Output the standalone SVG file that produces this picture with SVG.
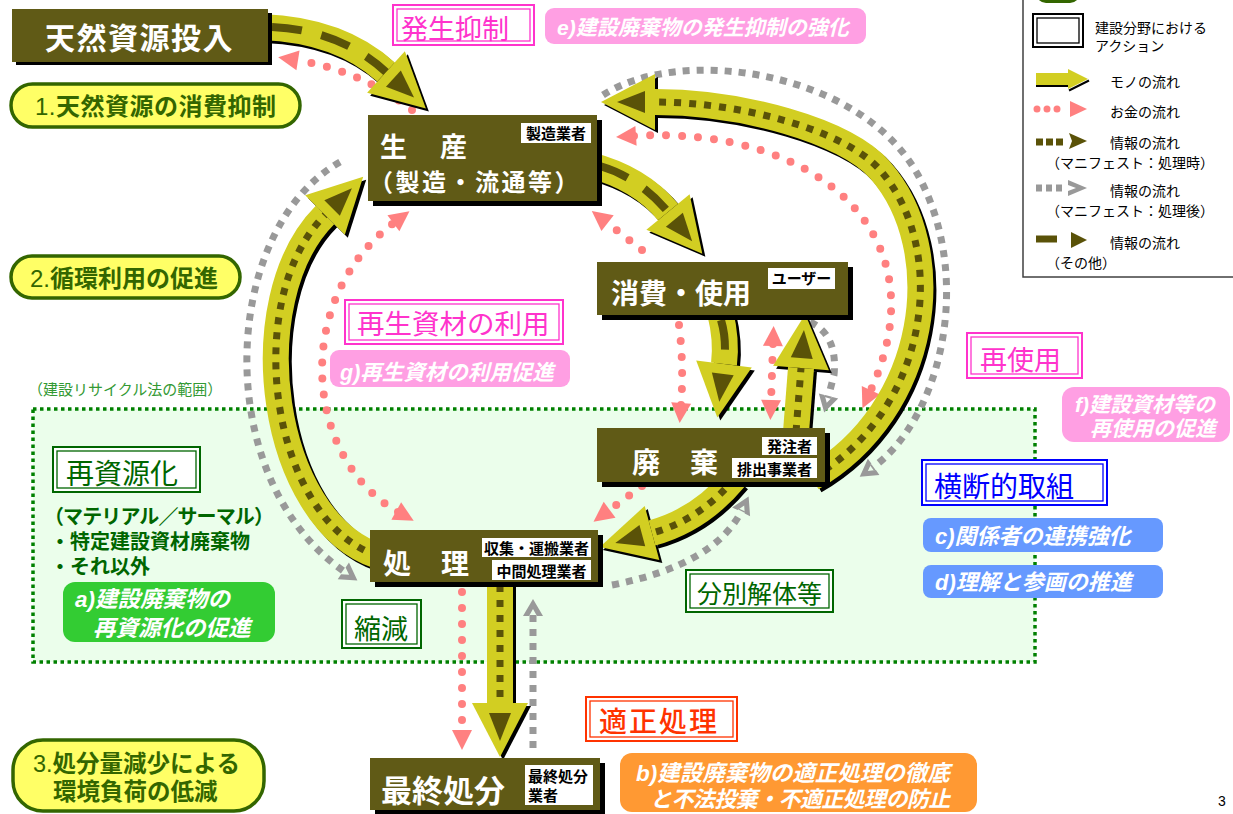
<svg xmlns="http://www.w3.org/2000/svg" width="1233" height="814" viewBox="0 0 1233 814">
<defs>
<style>
text{font-family:"Liberation Sans","Noto Sans CJK JP",sans-serif}
.node{fill:#605a16}
.shd{fill:#000}
.nt{fill:#fff;font-weight:bold}
.tag{fill:#fff}
.tt{fill:#000;font-weight:bold;font-size:15px;text-anchor:middle}
.yb{fill:none;stroke:#d2ce22;stroke-width:26}
.ys{fill:none;stroke:#000;stroke-width:26}
.od{fill:none;stroke:#5a5208;stroke-width:7;stroke-dasharray:7 8}
.ol{fill:none;stroke:#5a5208;stroke-width:8;stroke-dasharray:30 20}
.pk{fill:none;stroke:#ff8080;stroke-width:8;stroke-linecap:round;stroke-dasharray:0 16}
.gy{fill:none;stroke:#999;stroke-width:7;stroke-dasharray:7 7}
.dbo{fill:#fff;stroke-width:2}
.dbi{fill:none;stroke-width:1.3}
.mg{stroke:#ff33cc}
.gr{stroke:#006600}
.bl{stroke:#0000ff}
.rd{stroke:#ff3300}
.bk{stroke:#000}
.pill{fill:#ffff66;stroke:#336600;stroke-width:3.5}
.pt{fill:#336600;font-weight:bold}
.it{fill:#fff;font-style:italic;font-weight:bold}
.lg{font-size:14px;fill:#000}
</style>
<marker id="ya" markerUnits="userSpaceOnUse" viewBox="0 -30 56 60" markerWidth="56" markerHeight="60" refX="0" refY="0" orient="auto" overflow="visible">
<path d="M0,-28 L54,0 L0,28 z" fill="#d2ce22"/>
<path d="M10,-11 L38,0 L10,11 z" fill="#5a5208"/>
</marker>
<marker id="yk" markerUnits="userSpaceOnUse" viewBox="0 -30 56 60" markerWidth="56" markerHeight="60" refX="0" refY="0" orient="auto" overflow="visible">
<path d="M0,-28 L54,0 L0,28 z" fill="#000"/>
</marker>
<marker id="pa" markerUnits="userSpaceOnUse" viewBox="0 -11 22 22" markerWidth="22" markerHeight="22" refX="2" refY="0" orient="auto-start-reverse" overflow="visible">
<path d="M0,-10 L20,0 L0,10 z" fill="#ff8080"/>
</marker>
<marker id="ga" markerUnits="userSpaceOnUse" viewBox="-4 -11 22 22" markerWidth="22" markerHeight="22" refX="0" refY="0" orient="auto" overflow="visible">
<path d="M-2,-10 L15,0 L-2,10 L-2,4 L5,0 L-2,-4 z" fill="#999"/>
</marker>
</defs>

<rect width="1233" height="814" fill="#fff"/>

<g id="scope">
<rect x="33" y="409" width="1002" height="253" fill="#ebfeeb" stroke="#008000" stroke-width="3.5" stroke-dasharray="3.5 3.5"/>
<text x="28" y="395" font-size="15" fill="#339933">（建設リサイクル法の範囲）</text>
</g>

<g id="connectors">
<path class="gy" d="M603,95 C 680,45 860,70 918,175 C 975,280 940,420 872,468" marker-end="url(#ga)"/>
<path class="gy" d="M810,322 Q838,335 834,375 L828,398" marker-end="url(#ga)"/>
<path class="gy" d="M612,585 Q715,565 742,510" marker-end="url(#ga)"/>
<path class="gy" d="M533,748 L533,614" marker-end="url(#ga)"/>
<path class="gy" d="M340,162 C 220,230 210,480 345,572" marker-end="url(#ga)"/>
<path class="pk" d="M412,110 Q360,70 296,60" marker-end="url(#pa)"/>
<path class="pk" d="M634,136 C 810,125 945,230 870,392" marker-start="url(#pa)" marker-end="url(#pa)"/>
<path class="pk" d="M642,250 L606,222" marker-end="url(#pa)"/>
<path class="pk" d="M679,325 Q684,365 681,405" marker-end="url(#pa)"/>
<path class="pk" d="M773,344 L771,402" marker-start="url(#pa)" marker-end="url(#pa)"/>
<path class="pk" d="M642,486 L608,511" marker-end="url(#pa)"/>
<path class="pk" d="M398,512 C 305,460 290,300 395,222" marker-start="url(#pa)" marker-end="url(#pa)"/>
<path class="pk" d="M462,592 L462,732" marker-end="url(#pa)"/>
<g id="c-tennen-seisan">
<path class="ys" transform="translate(3,3)" d="M262,27 Q340,30 386,72" marker-end="url(#yk)"/>
<path class="yb" d="M262,27 Q340,30 386,72" marker-end="url(#ya)"/>
<path class="ol" d="M272,27 Q340,30 386,72"/>
</g>
<g id="c-seisan-shohi">
<path class="ys" transform="translate(3,3)" d="M590,165 Q640,178 668,212" marker-end="url(#yk)"/>
<path class="yb" d="M590,165 Q640,178 668,212" marker-end="url(#ya)"/>
<path class="ol" d="M600,166 Q640,178 668,212"/>
</g>
<g id="c-shohi-haiki">
<path class="ys" transform="translate(3,3)" d="M720,312 Q727,340 724,364" marker-end="url(#yk)"/>
<path class="yb" d="M720,312 Q727,340 724,364" marker-end="url(#ya)"/>
<path class="ol" d="M721,320 Q727,340 724,364"/>
</g>
<g id="c-haiki-shohi">
<path class="ys" transform="translate(3,3)" d="M796,432 L801,368" marker-end="url(#yk)"/>
<path class="yb" d="M796,432 L801,368" marker-end="url(#ya)"/>
<path class="od" d="M796,432 L801,368"/>
</g>
<g id="c-haiki-seisan">
<path class="ys" transform="translate(3,3)" d="M812,478 C 930,410 950,250 880,170 C 845,130 740,102 655,102" marker-end="url(#yk)"/>
<path class="yb" d="M812,478 C 930,410 950,250 880,170 C 845,130 740,102 655,102" marker-end="url(#ya)"/>
<path class="od" d="M812,478 C 930,410 950,250 880,170 C 845,130 740,102 655,102"/>
</g>
<g id="c-haiki-shori">
<path class="ys" transform="translate(3,3)" d="M735,478 Q700,520 652,533" marker-end="url(#yk)"/>
<path class="yb" d="M735,478 Q700,520 652,533" marker-end="url(#ya)"/>
<path class="od" d="M735,478 Q700,520 652,533"/>
</g>
<g id="c-shori-seisan">
<path class="ys" transform="translate(3,3)" d="M378,556 C 270,520 240,300 325,215" marker-end="url(#yk)"/>
<path class="yb" d="M378,556 C 270,520 240,300 325,215" marker-end="url(#ya)"/>
<path class="od" d="M378,556 C 270,520 240,300 325,215"/>
</g>
<g id="c-shori-saishu">
<path class="ys" transform="translate(3,3)" d="M500,578 L500,703" marker-end="url(#yk)"/>
<path class="yb" d="M500,578 L500,703" marker-end="url(#ya)"/>
<path class="od" d="M500,585 L500,703"/>
</g>
</g>

<g id="goal1">
<rect class="pill" x="11" y="84" width="289" height="43" rx="21.5"/>
<text class="pt" x="35" y="115" font-size="24" letter-spacing="0.5"><tspan font-weight="normal">1.</tspan>天然資源の消費抑制</text>
</g>
<g id="goal2">
<rect class="pill" x="11" y="256" width="229" height="42" rx="21"/>
<text class="pt" x="30" y="287" font-size="24"><tspan font-weight="normal">2.</tspan>循環利用の促進</text>
</g>
<g id="goal3">
<rect class="pill" x="13" y="740" width="251" height="71" rx="30"/>
<text class="pt" x="33" y="772" font-size="23.5"><tspan font-weight="normal">3.</tspan>処分量減少による</text>
<text class="pt" x="53" y="800" font-size="23.5">環境負荷の低減</text>
</g>

<g id="a-hassei">
<rect class="dbo mg" x="393" y="5" width="141" height="40"/>
<rect class="dbi mg" x="397" y="9" width="133" height="32"/>
<text x="401" y="39" font-size="27" fill="#ff33cc">発生抑制</text>
</g>
<g id="p-e">
<rect x="545" y="8" width="321" height="36" rx="9" fill="#ff9fe3"/>
<text class="it" x="557" y="35" font-size="21">e)建設廃棄物の発生抑制の強化</text>
</g>
<g id="a-saisei">
<rect class="dbo mg" x="345" y="300" width="218" height="44"/>
<rect class="dbi mg" x="349" y="304" width="210" height="36"/>
<text x="357" y="334" font-size="27.5" fill="#ff33cc">再生資材の利用</text>
</g>
<g id="p-g">
<rect x="330" y="350" width="240" height="37" rx="9" fill="#ff9fe3"/>
<text class="it" x="340" y="380" font-size="21.5">g)再生資材の利用促進</text>
</g>
<g id="a-saishigen">
<rect class="dbo gr" x="53" y="447" width="147" height="45"/>
<rect class="dbi gr" x="57" y="451" width="139" height="37"/>
<text x="66" y="484" font-size="28" fill="#006600">再資源化</text>
<text x="44" y="524" font-size="20" font-weight="bold" fill="#006600" letter-spacing="-0.9">（マテリアル／サーマル）</text>
<text x="50" y="549" font-size="20" font-weight="bold" fill="#006600">・特定建設資材廃棄物</text>
<text x="50" y="574" font-size="20" font-weight="bold" fill="#006600">・それ以外</text>
</g>
<g id="p-a">
<rect x="63" y="582" width="212" height="60" rx="12" fill="#33cc33"/>
<text class="it" x="75" y="607" font-size="22.5">a)建設廃棄物の</text>
<text class="it" x="93" y="636" font-size="22.5">再資源化の促進</text>
</g>
<g id="a-shukugen">
<rect class="dbo gr" x="342" y="600" width="79" height="48"/>
<rect class="dbi gr" x="346" y="604" width="71" height="40"/>
<text x="354" y="639" font-size="27" fill="#006600">縮減</text>
</g>
<g id="a-bunbetsu">
<rect class="dbo gr" x="686" y="570" width="147" height="42"/>
<rect class="dbi gr" x="690" y="574" width="139" height="34"/>
<text x="697" y="603" font-size="25" fill="#006600">分別解体等</text>
</g>
<g id="a-saishiyo">
<rect class="dbo mg" x="967" y="333" width="115" height="45"/>
<rect class="dbi mg" x="971" y="337" width="107" height="37"/>
<text x="980" y="370" font-size="27" fill="#ff33cc">再使用</text>
</g>
<g id="p-f">
<rect x="1062" y="387" width="168" height="55" rx="12" fill="#ff9fe3"/>
<text class="it" x="1075" y="412" font-size="21">f)建設資材等の</text>
<text class="it" x="1090" y="436" font-size="21">再使用の促進</text>
</g>
<g id="a-odan">
<rect class="dbo bl" x="922" y="460" width="185" height="45"/>
<rect class="dbi bl" x="926" y="464" width="177" height="37"/>
<text x="934" y="497" font-size="28" fill="#0000ff">横断的取組</text>
</g>
<g id="p-c">
<rect x="923" y="518" width="240" height="34" rx="8" fill="#6699ff"/>
<text class="it" x="935" y="544" font-size="22">c)関係者の連携強化</text>
</g>
<g id="p-d">
<rect x="923" y="565" width="240" height="33" rx="8" fill="#6699ff"/>
<text class="it" x="935" y="590" font-size="22">d)理解と参画の推進</text>
</g>
<g id="a-tekisei">
<rect class="dbo rd" x="586" y="697" width="151" height="44"/>
<rect class="dbi rd" x="590" y="701" width="143" height="36"/>
<text x="599" y="732" font-size="28" font-weight="500" letter-spacing="2" fill="#ff3300">適正処理</text>
</g>
<g id="p-b">
<rect x="620" y="753" width="357" height="59" rx="12" fill="#ff9933"/>
<text class="it" x="636" y="781" font-size="22.5">b)建設廃棄物の適正処理の徹底</text>
<text class="it" x="650" y="807" font-size="22" letter-spacing="-0.6">と不法投棄・不適正処理の防止</text>
</g>

<g id="n-tennen">
<rect class="shd" x="16" y="13" width="256" height="52"/>
<rect class="node" x="12" y="9" width="256" height="53"/>
<text class="nt" x="45" y="49" font-size="30" letter-spacing="1.5">天然資源投入</text>
</g>
<g id="n-seisan">
<rect class="shd" x="373" y="120" width="229" height="86"/>
<rect class="node" x="368" y="115" width="229" height="86"/>
<text class="nt" x="380" y="157" font-size="27" letter-spacing="3">生　産</text>
<text class="nt" x="369" y="191" font-size="24" letter-spacing="2.5">（製造・流通等）</text>
<rect class="tag" x="521" y="123" width="70" height="20"/>
<text class="tt" x="556" y="139">製造業者</text>
</g>
<g id="n-shohi">
<rect class="shd" x="602" y="267" width="251" height="53"/>
<rect class="node" x="597" y="262" width="251" height="53"/>
<text class="nt" x="611" y="304" font-size="28">消費・使用</text>
<rect class="tag" x="768" y="268" width="67" height="21"/>
<text class="tt" x="801.5" y="284">ユーザー</text>
</g>
<g id="n-haiki">
<rect class="shd" x="602" y="433" width="228" height="54"/>
<rect class="node" x="597" y="428" width="228" height="54"/>
<text class="nt" x="632" y="473" font-size="28" letter-spacing="1">廃　棄</text>
<rect class="tag" x="762" y="437" width="55" height="18"/>
<text class="tt" x="789.5" y="452" font-size="16">発注者</text>
<rect class="tag" x="732" y="458" width="85" height="20"/>
<text class="tt" x="774.5" y="475" font-size="16">排出事業者</text>
</g>
<g id="n-shori">
<rect class="shd" x="375" y="535" width="228" height="52"/>
<rect class="node" x="370" y="530" width="228" height="52"/>
<text class="nt" x="383" y="574" font-size="28" letter-spacing="1">処　理</text>
<rect class="tag" x="482" y="538" width="109" height="19"/>
<text class="tt" x="536.5" y="554">収集・運搬業者</text>
<rect class="tag" x="492" y="560" width="99" height="20"/>
<text class="tt" x="541.5" y="577" font-size="16">中間処理業者</text>
</g>
<g id="n-saishu">
<rect class="shd" x="375" y="763" width="230" height="52"/>
<rect class="node" x="370" y="758" width="230" height="52"/>
<text class="nt" x="381" y="802" font-size="31">最終処分</text>
<rect class="tag" x="525" y="765" width="68" height="40"/>
<text x="528" y="782" font-size="15" font-weight="bold" fill="#000">最終処分</text>
<text x="528" y="801" font-size="15" font-weight="bold" fill="#000">業者</text>
</g>

<g id="legend">
<rect x="1023" y="-3" width="216" height="280" fill="#fff" stroke="#404040" stroke-width="1.5"/>
<rect x="1036" y="-20" width="44" height="23" rx="10" fill="#336600"/>
<rect class="dbo bk" x="1033" y="14" width="50" height="33"/>
<rect class="dbi bk" x="1037" y="18" width="42" height="25"/>
<text class="lg" x="1095" y="33" font-size="14.5">建設分野における</text>
<text class="lg" x="1095" y="51" font-size="14.5">アクション</text>
<path d="M1036,86 L1069,86" stroke="#000" stroke-width="2"/>
<path d="M1036,79 L1070,79" stroke="#d2ce22" stroke-width="12"/>
<path d="M1068,69 L1088,79 L1068,89 z" fill="#d2ce22"/>
<path d="M1069,90.5 L1089,80.5" stroke="#000" stroke-width="2"/>
<text class="lg" x="1110" y="87">モノの流れ</text>
<path d="M1037,109 L1066,109" class="pk" style="stroke-width:7;stroke-dasharray:0 10"/>
<path d="M1070,101 L1087,109 L1070,117 z" fill="#ff8080"/>
<text class="lg" x="1110" y="117">お金の流れ</text>
<path d="M1036,142 L1066,142" stroke="#5a5208" stroke-width="7" stroke-dasharray="7 3"/>
<path d="M1069,133 L1087,141 L1069,149 L1072,141 z" fill="#5a5208"/>
<text class="lg" x="1110" y="148">情報の流れ</text>
<text class="lg" x="1046" y="168" font-size="13">（マニフェスト：処理時）</text>
<path d="M1036,188 L1064,188" stroke="#999" stroke-width="7" stroke-dasharray="6 4"/>
<path d="M1068,180 L1087,188 L1068,196 L1068,191 L1076,188 L1068,185 z" fill="#999"/>
<text class="lg" x="1110" y="196">情報の流れ</text>
<text class="lg" x="1046" y="216" font-size="13">（マニフェスト：処理後）</text>
<path d="M1036,239 L1057,239" stroke="#5a5208" stroke-width="7"/>
<path d="M1071,232 L1087,240 L1071,248 z" fill="#5a5208"/>
<text class="lg" x="1110" y="248">情報の流れ</text>
<text class="lg" x="1046" y="268" font-size="13">（その他）</text>
</g>

<text x="1218" y="806" font-size="14" fill="#000">3</text>
</svg>
